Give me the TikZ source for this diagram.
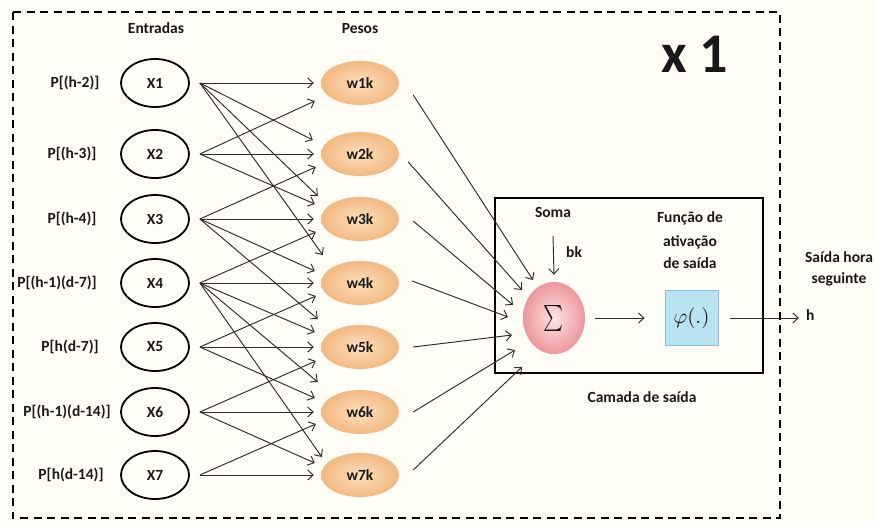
\documentclass[tikz,border=0pt]{standalone}
\usepackage{fontspec}
\setmainfont{Carlito}
\usetikzlibrary{shapes.geometric,arrows.meta,calc}
\definecolor{paper}{RGB}{255,253,245}
\definecolor{ink}{RGB}{25,25,25}
\definecolor{lineC}{RGB}{45,45,45}
\definecolor{wIn}{RGB}{253,224,192}
\definecolor{wOut}{RGB}{242,184,128}
\definecolor{sIn}{RGB}{255,228,228}
\definecolor{sOut}{RGB}{236,150,155}
\definecolor{phiFill}{RGB}{184,227,240}
\definecolor{phiDraw}{RGB}{138,190,215}
\begin{document}
\begin{tikzpicture}[x=1pt,y=-1pt,
  every node/.style={text=ink},
  font=\fontsize{15.5}{18}\selectfont\bfseries,
  inp/.style={ellipse,draw=black,line width=1.8pt,minimum width=68pt,minimum height=48pt,inner sep=0pt},
  wnode/.style={ellipse,minimum width=78pt,minimum height=44pt,inner sep=0pt,inner color=wIn,outer color=wOut},
  link/.style={draw=lineC,line width=0.95pt,-{Straight Barb[length=5.5pt,width=10pt]}},
  lbl/.style={inner sep=0pt,anchor=base}]
\useasboundingbox (0,0) rectangle (875,525);
\fill[paper] (0,0) rectangle (875,525);

% outer dashed frame and output layer box
\draw[line width=2.3pt,dash pattern=on 8pt off 5.5pt] (13,12) rectangle (780,518);
\draw[line width=2.3pt] (495,198) rectangle (763,373);

% column headings and repetition count
\node[lbl] (entr) at (156,33) {Entradas};
\node[lbl] (pesos) at (360,33) {Pesos};
\node[lbl] (rep) at (695,72) {\fontsize{56}{56}\selectfont x 1};

% inputs, their labels and the weights
\foreach \i/\y/\lx/\lab in {1/83/75/{P[(h-2)]},2/154/72/{P[(h-3)]},3/219/72/{P[(h-4)]},
  4/283/57/{P[(h-1)(d-7)]},5/347/70/{P[h(d-7)]},6/412/67/{P[(h-1)(d-14)]},7/475/71/{P[h(d-14)]}}{
  \node[inp] (x\i) at (155,\y) {X\i};
  \node[lbl] (p\i) at (\lx,\y+4) {\lab};
  \node[wnode] (w\i) at (360,\y) {w\i k};
}

% input -> weight connections
\foreach \i/\j/\dx/\dy in {1/1/-7/0,1/2/-8/-14,1/3/-3/-23,1/4/2/-28,
  2/1/-6/18,2/2/-7/0,2/3/-6/-15,
  3/2/-5/13,3/3/-7/0,3/4/-6/-12,3/5/-3/-28,
  4/3/-5/13,4/4/-7/0,4/5/-6/-15,4/6/-3/-30,4/7/1/-18,
  5/4/-5/13,5/5/-7/0,5/6/-6/-14,
  6/5/-5/14,6/6/-7/0,6/7/-6/-12,
  7/6/-5/12,7/7/-7/0}
  \draw[link] ($(x\i.east)+(10,0)$) -- ($(w\j.west)+(\dx,\dy)$);

% summation node
\node[ellipse,minimum width=62pt,minimum height=72pt,inner sep=0pt,inner color=sIn,outer color=sOut] (sum) at (554,318)
  {\fontsize{10}{10}\selectfont\scalebox{1.9}[2.6]{$\sum$}};

% weight -> summation
\foreach \j/\sx/\sy/\ex/\ey in {1/14/12/-21/-38,2/9/8/-32/-28,3/14/2/-41/-13,4/13/-2/-46/-1,
  5/14/0/-42/17,6/14/0/-39/32,7/14/-5/-32/49}
  \draw[link] ($(w\j.east)+(\sx,\sy)$) -- ($(sum.center)+(\ex,\ey)$);

% bias
\node[lbl] (soma) at (553,217) {Soma};
\coordinate (bktop) at (553,236);
\draw[link] (bktop) -- ($(sum.north)+(0,-7)$);
\node[lbl,anchor=base west] (bk) at (566,257) {bk};

% activation function
\node[lbl] (f1) at (690,222) {Função de};
\node[lbl] (f2) at (690,246) {ativação};
\node[lbl] (f3) at (690,268) {de saída};
\node[draw=phiDraw,fill=phiFill,line width=0.8pt,minimum width=53pt,minimum height=55pt,inner sep=0pt] (phi) at (691.5,318)
  {\raisebox{5pt}{\fontsize{10}{10}\selectfont\scalebox{2.1}{$\varphi(.)$}}};
\draw[link] ($(sum.east)+(10,0)$) -- ($(phi.west)+(-20,0)$);

% output
\node[lbl] (camada) at (642,402) {Camada de saída};
\node[lbl] (s1) at (839,262) {Saída hora};
\node[lbl] (s2) at (839,283) {seguinte};
\node[lbl,anchor=base west] (h) at (806,320) {h};
\draw[link] ($(phi.east)+(12,0)$) -- ($(h.west |- phi.east)+(-7,0)$);
\end{tikzpicture}
\end{document}
